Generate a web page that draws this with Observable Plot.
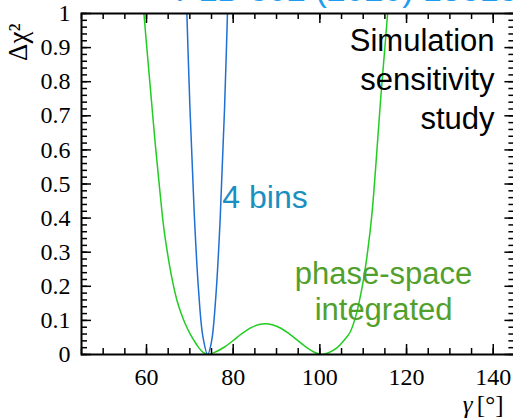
<!DOCTYPE html>
<html><head><meta charset="utf-8">
<script src="https://cdn.jsdelivr.net/npm/d3@7"></script>
<script src="https://cdn.jsdelivr.net/npm/@observablehq/plot@0.6"></script>
<style>body{margin:0;background:#fff} svg{display:block;overflow:hidden}</style>
</head><body><div id="chart"></div>
<script>
// "4 bins" curve
const blueGamma = [69, 70, 71, 72, 73, 74.1, 75, 76, 77, 78, 79];
const blueDchi2 = [1.13, 0.73, 0.417, 0.19, 0.053, 0, 0.038, 0.171, 0.398, 0.72, 1.14];
// "phase-space integrated" curve
const greenGamma = [58.5, 59, 60, 61, 62, 63, 64, 65, 66, 67, 68, 69, 70, 71, 72, 73, 74,
  76, 78, 80, 82, 84, 86, 87.5, 89, 91, 93, 95, 97, 99, 100.5,
  102, 104, 106, 107, 108, 109, 110, 111, 112, 113, 114, 115, 116];
const greenDchi2 = [1.13, 1.06, 0.91, 0.765, 0.62, 0.49, 0.37, 0.285, 0.215, 0.16, 0.12, 0.088, 0.062, 0.04, 0.021, 0.007, 0,
  0.008, 0.022, 0.041, 0.061, 0.078, 0.088, 0.09, 0.087, 0.077, 0.06, 0.04, 0.02, 0.005, 0,
  0.005, 0.02, 0.048, 0.066, 0.1, 0.15, 0.215, 0.3, 0.41, 0.57, 0.745, 0.9, 1.06];
const xTickLabels = [60, 80, 100, 120, 140];
const xMinorTicks = [45, 50, 55, 60, 65, 70, 75, 80, 85, 90, 95, 100, 105, 110, 115, 120, 125, 130, 135, 140, 145];
const yTickLabels = [0, 0.1, 0.2, 0.3, 0.4, 0.5, 0.6, 0.7, 0.8, 0.9, 1];
const yMinorTicks = d3.range(0, 1.0001, 0.02);

const blue = blueGamma.map((g, i) => ({g, d: blueDchi2[i]}));
const green = greenGamma.map((g, i) => ({g, d: greenDchi2[i]}));

const W = 513, H = 420, mL = 81, mT = 13, mB = 66, mR = -1.4;
const fw = W - mL - mR, fh = H - mT - mB;
const serif = "'Liberation Serif', 'DejaVu Serif', serif";
const sans = "'Liberation Sans', Arial, sans-serif";
const tickW = 1.5;

const plot = Plot.plot({
  width: W, height: H,
  marginLeft: mL, marginTop: mT, marginBottom: mB, marginRight: mR,
  x: {domain: [45, 145]},
  y: {domain: [0, 1]},
  style: {background: "white", color: "black"},
  marks: [
    Plot.line(green, {x: "g", y: "d", stroke: "#22cc22", strokeWidth: 1.5, curve: "catmull-rom", clip: true}),
    Plot.line(blue, {x: "g", y: "d", stroke: "#1f6fd4", strokeWidth: 1.5, curve: "catmull-rom", clip: true}),
    // minor ticks
    Plot.ruleX(xMinorTicks, {x: d => d, insetTop: fh - 6, stroke: "black", strokeWidth: tickW}),
    Plot.ruleX(xMinorTicks, {x: d => d, insetBottom: fh - 6, stroke: "black", strokeWidth: tickW}),
    Plot.ruleY(yMinorTicks, {y: d => d, insetRight: fw - 6, stroke: "black", strokeWidth: tickW}),
    Plot.ruleY(yMinorTicks, {y: d => d, insetLeft: fw - 6, stroke: "black", strokeWidth: tickW}),
    // major ticks
    Plot.ruleX(xTickLabels, {x: d => d, insetTop: fh - 10, stroke: "black", strokeWidth: tickW}),
    Plot.ruleX(xTickLabels, {x: d => d, insetBottom: fh - 10, stroke: "black", strokeWidth: tickW}),
    Plot.ruleY(yTickLabels, {y: d => d, insetRight: fw - 10, stroke: "black", strokeWidth: tickW}),
    Plot.ruleY(yTickLabels, {y: d => d, insetLeft: fw - 10, stroke: "black", strokeWidth: tickW}),
    Plot.frame({stroke: "black", strokeWidth: 2}),
    Plot.axisX(xTickLabels, {tickSize: 0, tickPadding: 13, fontSize: 24, fontFamily: serif, label: null}),
    Plot.axisY(yTickLabels, {tickSize: 0, tickPadding: 11, fontSize: 24, fontFamily: serif, label: null,
      tickFormat: d => String(+d.toFixed(1))}),
    // axis titles
    Plot.text(["γ"], {text: d => d, frameAnchor: "bottom-right", dx: 472 - (W - mR), dy: 58,
      textAnchor: "end", lineAnchor: "bottom", fontSize: 25, fontFamily: serif, fontStyle: "italic"}),
    Plot.text(["[°]"], {text: d => d, frameAnchor: "bottom-right", dx: 503 - (W - mR), dy: 58,
      textAnchor: "end", lineAnchor: "bottom", fontSize: 25, fontFamily: serif}),
    Plot.text(["Δχ²"], {text: d => d, frameAnchor: "top-left", dx: 26 - mL, dy: 10, rotate: -90,
      textAnchor: "end", lineAnchor: "bottom", fontSize: 27, fontFamily: serif}),
    // annotations
    Plot.text(["PLB 802 (2020) 135188"], {text: d => d, frameAnchor: "top-left", dx: 94, dy: -13,
      textAnchor: "start", lineAnchor: "bottom", fontSize: 34, fontFamily: sans, fill: "#1e9cf0"}),
    Plot.text(["4 bins"], {text: d => d, x: () => 77.5, y: () => 0.431, textAnchor: "start", lineAnchor: "bottom",
      fontSize: 32, fontFamily: sans, fill: "#1a8fc2"}),
    Plot.text(["phase-space\nintegrated"], {text: d => d, x: () => 114.7, y: () => 0.1, textAnchor: "middle",
      lineAnchor: "bottom", lineHeight: 1.18, fontSize: 31, fontFamily: sans, fill: "#52a02c"}),
    Plot.text(["Simulation\nsensitivity\nstudy"], {text: d => d, x: () => 140.3, y: () => 0.662, textAnchor: "end",
      lineAnchor: "bottom", lineHeight: 1.26, fontSize: 31, fontFamily: sans, fill: "black"})
  ]
});
document.getElementById("chart").appendChild(plot);
</script>
</body></html>
